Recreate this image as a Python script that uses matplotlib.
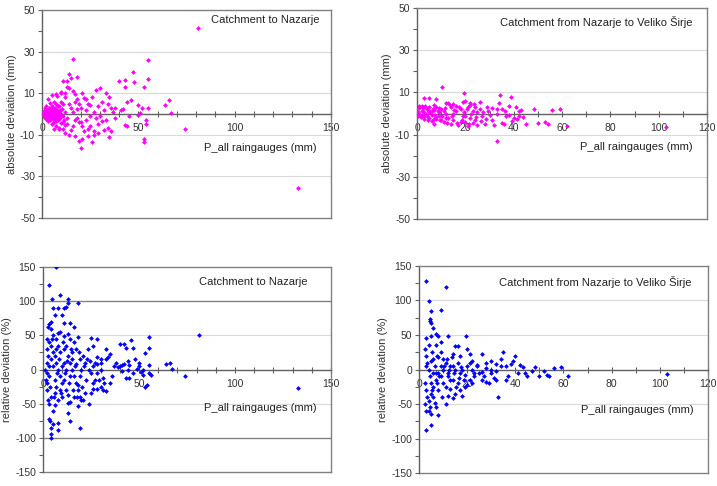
import numpy as np
import matplotlib
matplotlib.use("Agg")
import matplotlib.pyplot as plt
from matplotlib.ticker import MultipleLocator, FixedLocator

plt.rcParams.update({
    "font.family": ["Liberation Sans", "DejaVu Sans"],
    "font.size": 7.5,
    "axes.unicode_minus": False,
})

# absolute deviation, catchment to Nazarje
abs_naz_x = [0.5, 1, 1, 1.5, 2, 2, 2.5, 3, 3, 3.5, 4, 4, 4.5, 5, 5, 5.5, 6, 6, 6.5, 7, 7, 7.5, 8, 8, 8.5,
             9, 9, 9.5, 10, 10, 10.5, 11, 11, 11.5, 12, 12, 2, 3, 4, 5, 6, 7, 8, 9, 10, 7, 5, 6, 9, 3,
             2, 1.5, 4, 5.5, 6.5, 7.5, 8.5, 10, 11, 12,
             1, 2, 3, 4, 5, 6, 7, 8, 9, 1.5, 2.5, 3.5, 4.5, 5.5, 6.5, 7.5, 8.5, 9.5,
             10, 11, 13, 14, 15, 13, 12, 14, 16, 17, 18, 16, 17, 19, 18, 15, 14, 17, 13, 16, 15, 14, 13,
             16, 18, 19, 20, 20, 21, 22, 21, 22, 23, 24, 23, 24, 25, 25, 26, 26, 27, 27, 28, 28, 29, 29,
             30, 30, 31, 31, 32, 32, 33, 33, 34, 34, 35, 35, 36, 36, 37, 38, 38, 29, 27, 25, 23, 21, 19,
             24, 20, 17, 18, 12, 11,
             40, 41, 42, 43, 43, 43, 44, 44, 45, 46, 47, 48, 50, 50, 51, 53, 53, 53, 54, 55, 55, 55, 52,
             54, 64, 66, 67, 74, 81, 133]
abs_naz_y = [0.5, -0.5, 1.5, -1, 0, 2, -2, 1, -1.5, 3, 0.5, -3, 2, -1, 4, -2.5, 1, -4, 3, 0, -2, 5, -1, 2,
             -3, 1, 4, -2, 0, -4.5, 2.5, -1, 5, -3, 1, -5.5, 4, -3.5, 5.5, -5, 6, -6, 8.5, -6.5, 10, 9.5,
             9, -7, -7, 7, -2.5, 3, -1.5, 1.5, -0.5, -3.5, 4, 6, -7, 8,
             -1.5, 1, -0.5, 2.5, 0, -2, 1.5, 0.5, -1, 2, -1, 0, -2, 3, -3, 1, -0.5, 2,
             10.5, 16, 16, 19, 17.5, 13, 10, 12.5, 26.5, 9.5, 18, 11, 6, 5, -2, -7.5, -10, -10.5, -5, -6,
             3, 5, -2, 1, 7, -4, -16.5, 3, -6, 7.5, 10, -8, -3, -10.5, 2, 5, -1, -6, -13.5, 8, 1, -8,
             11.5, -2, 4, -5, 12.5, -1, -3.5, 6, -7.5, 2, 10, -3, 5, -6.5, 8, -11, 3, -8, 1, 3, -2, -9,
             -10, 4.5, 7, -12, -13, -7, -4, -3, 2.5, -9, -4,
             16, 2, 2.5, 16.5, 13, -5.5, -6, 6, -1, 6.5, 20, 15.5, 4.5, -0.5, 0.5, 13, -12, -13.5, -5,
             26, 17, 3, 3, -3, 4.5, 6.5, 0.5, -7, 41.5, -35.5]

# absolute deviation, catchment from Nazarje to Veliko Sirje
abs_vel_x = [10.5, 3, 5, 8, 19.5, 20, 12, 15, 22, 26, 29, 31, 33, 34, 34.5, 35, 36, 37, 38, 39, 40, 41,
             42, 42, 44, 45, 48.5, 50, 53, 54, 56, 59, 62, 103, 33, 32, 30, 28, 27, 25, 24, 23, 22, 21,
             20, 19, 18, 17, 16, 15, 14, 13, 12, 11, 10, 9, 8, 7, 7, 6, 5, 4, 3, 2, 1, 0.5, 1.5, 2.5,
             3.5, 4.5, 5.5, 6.5, 7.5, 8.5, 9.5, 10.5, 11.5, 12.5, 13.5, 14.5, 15.5, 16.5, 17.5, 18.5,
             19.5, 20.5, 21.5, 22.5, 23.5, 24.5, 26, 26.5, 27.5, 28.5, 29.5, 31, 33, 35, 36.5, 38, 39.5,
             41.5, 43, 2, 3, 4, 5, 6, 7, 8, 9, 10, 11, 12, 13, 14, 15, 16, 18, 19, 20, 21, 22, 23, 24, 25,
             1, 0.5, 1, 2, 3, 4, 5, 6, 7, 8, 9]
abs_vel_y = [12.5, 7.5, 7.5, 7, 9.5, 6, 5, 4.5, 5, 5.5, 3, 2.5, 2, 5, 9, 2, -5, -1, 3.5, 8, -2, 3, -1, 1,
             -1.5, -5, 2, -4.5, -4, -5, 1.5, 2, -6, -6.5, -13, -5.5, -0.5, -5, -1, 0.5, -3, 1, -2, 3, -4,
             -1, 2, -5.5, 1, -3, 3, -2, 0, -4, 2, -1, 3, -2.5, -5, 1, -2, 2, -1, 1, 0, 0.5, -1.5, 2.5,
             3.5, -3, 0.5, 2, -0.5, 1, -3, -1, 2.5, -4.5, 4, -1, 1.5, -4.5, 3, -3, 0.5, 2, -5, 0, 4.5,
             -1.5, 2, -3.5, 0.5, -2.5, 1, -3, 0, -4.5, 1, -0.5, -3.5, -2.5, 1.5, 3.5, -2.5, 0, 3, -3.5,
             4, -1.5, 0.5, -3, 1, -2, 5, -5, 0, 3.5, -4, 5.5, -1, -6, 4, -4.5, 3, -5.5, 2.5, -1, 3.5,
             -0.5, 0.5, -1, 1, -0.5, 1.5, -2.5, 2.5]

# relative deviation, catchment to Nazarje
rel_naz_x = [7, 3, 4.5, 9, 13, 13, 18, 12, 11, 5, 8, 6, 10, 11, 14, 4, 3, 2.5, 4, 16, 9, 8, 11, 13, 14,
             18, 25, 28, 33, 35, 34, 33, 30, 28, 26, 40, 42, 43, 41, 40, 42, 44, 45, 43, 46, 47, 48, 50,
             50, 52, 53, 54, 53, 55, 55, 55, 55, 56, 64, 66, 67, 74, 81, 133,
             2, 2, 2, 2.5, 3, 3, 3.5, 4, 4, 5, 5, 4, 6, 8, 8, 13, 14, 19, 13, 14, 18, 2, 3, 4, 5, 6, 7,
             8, 9, 10, 11, 12, 13, 14, 15, 16, 17, 18, 19, 20, 21, 22, 24, 25, 26, 27, 28, 30, 31, 32,
             33, 21, 22, 23, 24, 25, 26, 27, 28, 29, 30, 31, 19, 20, 17, 16, 15, 12, 11, 10, 9, 8, 7, 6,
             5, 4, 3, 2, 1, 1.5, 2.5, 3.5, 4.5, 5.5, 6.5, 7.5, 8.5, 9.5, 10.5, 11.5, 12.5, 13.5, 14.5,
             15.5, 16.5, 17.5, 18.5, 19.5, 20.5, 21.5, 22.5, 23.5, 24.5, 26, 28, 30, 2, 3, 4, 5, 6, 7, 8,
             9, 10, 11, 12, 13, 14, 15, 16, 17, 18, 35, 36, 37, 38, 39, 41, 44, 45, 47, 49, 51, 52]
rel_naz_y = [150, 124, 103, 109, 103, 97, 98, 91, 90, 90, 90, 80, 80, 68, 68, 70, 66, 62, 60, 62, 55, 54,
             49, 52, 45, 48, 46, 44, 30, 22, 18, 15, 10, 8, 5, 38, 37, 31, 7, 5, 8, 13, -12, -12, 43, 32,
             15, 10, 5, 0, 24, -22, -25, -5, 6, 31, 47, -8, 8, 10, 1, -10, 51, -27,
             -5, -20, -30, -45, -50, -73, -76, -95, -100, -60, -80, -85, -52, -78, -88, -64, -76, -85,
             -49, -48, -54, 30, 40, 35, 25, 20, 10, 0, -10, -20, 30, 35, 20, 10, 0, -10, -20, -30, -40,
             -45, -45, -35, -50, -35, -20, -15, -28, -25, -30, -20, -32, 20, 10, 15, 0, -5, 35, 10, -5,
             -15, 0, -12, 15, 0, 30, 40, 25, -30, -15, 5, 25, 35, -25, -35, 5, 15, -10, 10, 0, -15, 20,
             -25, 45, -40, 30, -5, 15, -35, 40, -5, 12, -20, 30, -30, 5, -40, 25, -10, -25, 5, -15, 30,
             12, -28, 18, 15, 45, 5, -40, 50, -15, 45, -45, -30, -40, 10, 0, -38, -10, 15, -40, 8, -22,
             -20, -10, 5, 10, 3, -2, 0, 6, -5, 1, -3, -8]

# relative deviation, catchment from Nazarje to Veliko Sirje
rel_vel_x = [3, 11, 4, 9, 5, 4.5, 4.5, 5, 6, 7, 8, 9, 5, 3, 12, 19.5, 20, 15, 16, 14, 17, 21, 22, 24, 26,
             28, 30, 32, 35, 34, 36, 37, 38, 39, 40, 41, 42, 43, 44, 45, 47, 48, 50, 52, 53, 54, 56, 59,
             62, 103, 33, 32, 31, 30, 29, 28, 27, 26, 25, 24, 23, 22, 21, 20, 19, 18, 17, 16, 15, 14, 13,
             12, 11, 10, 9, 8, 7, 6, 5, 5, 4, 3, 3, 2.5, 3, 4, 5, 6, 7, 8, 9, 10, 11, 12, 13, 14, 15, 16,
             17, 18, 19, 20, 21, 22, 23, 2.5, 3, 3.5, 4, 4.5, 5, 5.5, 6, 6.5, 7, 7.5, 8, 8.5, 9, 9.5, 10,
             10.5, 11, 11.5, 12, 12.5, 13, 13.5, 14, 14.5, 15.5, 16.5, 17.5, 18.5, 2.5, 3, 3.5, 4, 4.5,
             5, 5.5, 6, 6.5, 7, 7.5, 8, 26, 28, 30, 32, 34, 36]
rel_vel_y = [128, 120, 99, 86, 85, 73, 70, 68, 60, 52, 48, 40, 48, 45, 48, 49, 30, 34, 34, 22, 20, 22, 12,
             6, 22, 10, 12, 8, 26, 15, 5, -10, 8, 12, 20, -5, 7, 3, -5, -10, -2, 4, -9, -2, -8, -10, 2, 3,
             -10, -7, -40, -15, -13, -5, -20, -18, -10, -3, -5, 5, -10, -20, -15, -22, -8, -38, -30, -20,
             -35, -42, -28, -38, -50, -20, -10, -66, -55, -40, -80, -65, -60, -88, -60, -50, -30, -45,
             -35, -25, -15, -5, 5, 15, 10, -5, 5, -15, 0, 10, -5, 0, -25, 5, 10, 0, -5, 30, 20, 10, 0,
             -10, -20, 25, 15, 5, -5, 20, -30, -10, 25, -40, 0, 5, -25, 15, -10, 0, -15, 18, 5, -5, -25,
             -12, 3, -15, -20, 5, -40, 35, -55, 12, -30, -5, -48, 35, -20, 18, -15, 2, 0, -2, 5, -15]

MAGENTA = "#FF00FF"
BLUE = "#0000FF"
GRID = "#D9D9D9"
FRAME = "#808080"
DARK = "#606060"

fig = plt.figure(figsize=(7.17, 4.86), dpi=100)
rects = [
    [0.0586, 0.5514, 0.403, 0.428],
    [0.5816, 0.5494, 0.4045, 0.434],
    [0.0600, 0.0288, 0.4017, 0.4218],
    [0.5844, 0.0267, 0.403, 0.426],
]
panels = [
    dict(x=abs_naz_x, y=abs_naz_y, c=MAGENTA, xmax=150, xmaj=50, xmin=10, ylim=(-50, 50),
         ymaj=[50, 30, 10, -10, -30, -50], ymin=[40, 20, -20, -40], grid=[30, 10, -10, -30], dark=[],
         ylabel="absolute deviation (mm)", title="Catchment to Nazarje",
         tpos=(144, 45.2), xl=-16.3),
    dict(x=abs_vel_x, y=abs_vel_y, c=MAGENTA, xmax=120, xmaj=20, xmin=10, ylim=(-50, 50),
         ymaj=[50, 30, 10, -10, -30, -50], ymin=[40, 20, -20, -40], grid=[30, 10, -10, -30], dark=[],
         ylabel="absolute deviation (mm)", title="Catchment from Nazarje to Veliko Širje",
         tpos=(114, 43.4), xl=-16),
    dict(x=rel_naz_x, y=rel_naz_y, c=BLUE, xmax=150, xmaj=50, xmin=10, ylim=(-150, 150),
         ymaj=[150, 100, 50, 0, -50, -100, -150], ymin=[125, 75, 25, -25, -75, -125],
         grid=[50, -50], dark=[100, -100],
         ylabel="relative deviation (%)", title="Catchment to Nazarje",
         tpos=(138, 128), xl=-56),
    dict(x=rel_vel_x, y=rel_vel_y, c=BLUE, xmax=120, xmaj=20, xmin=10, ylim=(-150, 150),
         ymaj=[150, 100, 50, 0, -50, -100, -150], ymin=[125, 75, 25, -25, -75, -125],
         grid=[100, 50, -50, -100], dark=[],
         ylabel="relative deviation (%)", title="Catchment from Nazarje to Veliko Širje",
         tpos=(113, 127), xl=-59),
]

for rect, p in zip(rects, panels):
    ax = fig.add_axes(rect)
    for g in p["grid"]:
        ax.axhline(g, color=GRID, lw=0.8, zorder=0)
    for g in p["dark"]:
        ax.axhline(g, color=FRAME, lw=1.0, zorder=0)
    ax.scatter(p["x"], p["y"], s=6, marker="D", color=p["c"], linewidths=0, zorder=3)
    ax.set_xlim(0, p["xmax"])
    ax.set_ylim(*p["ylim"])

    # x axis crosses at zero, frame kept at the bottom
    ax.spines["bottom"].set_position(("data", 0))
    ax.spines["bottom"].set_color(DARK)
    ax.axhline(p["ylim"][0], color=FRAME, lw=1.0, clip_on=False, zorder=1)
    ax.spines["left"].set_color(DARK)
    ax.spines["top"].set_color(FRAME)
    ax.spines["right"].set_color(FRAME)
    for s in ax.spines.values():
        s.set_linewidth(1.0)

    ax.xaxis.set_major_locator(MultipleLocator(p["xmaj"]))
    ax.xaxis.set_minor_locator(MultipleLocator(p["xmin"]))
    ax.tick_params(axis="x", which="both", direction="inout", length=5, width=0.8,
                   colors=DARK, labelcolor="#333333", labelsize=7.5, pad=4)
    ax.yaxis.set_major_locator(FixedLocator(p["ymaj"]))
    ax.yaxis.set_minor_locator(FixedLocator(p["ymin"]))
    ax.tick_params(axis="y", which="both", direction="out", length=3, width=0.8,
                   colors=DARK, labelcolor="#333333", labelsize=7.5, pad=2)

    ax.set_ylabel(p["ylabel"], fontsize=8, color="#333333", labelpad=2)
    ax.text(p["tpos"][0], p["tpos"][1], p["title"], ha="right", va="center",
            fontsize=8, color="#222222")
    ax.text(p["xmax"] * 0.95, p["xl"], "P_all raingauges (mm)", ha="right", va="center",
            fontsize=8, color="#222222")

fig.savefig("out.png", dpi=100)
